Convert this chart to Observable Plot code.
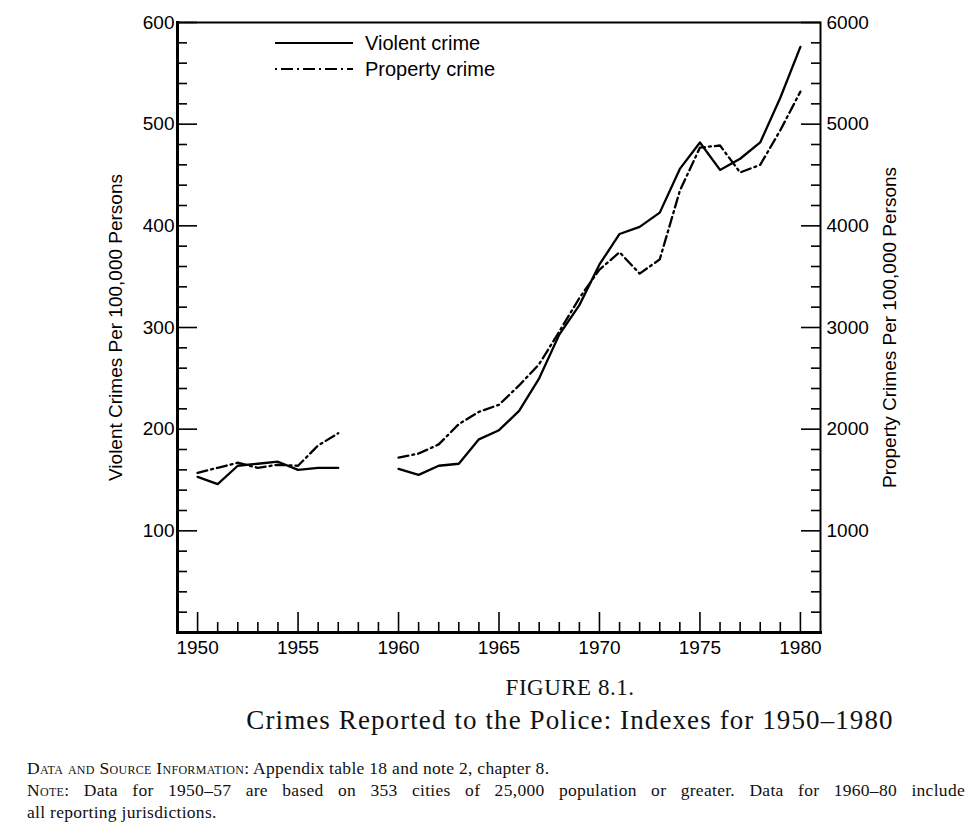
<!DOCTYPE html>
<html>
<head>
<meta charset="utf-8">
<script src="https://cdn.jsdelivr.net/npm/d3@7"></script>
<script src="https://cdn.jsdelivr.net/npm/@observablehq/plot@0.6"></script>
<style>
  body { margin: 0; background: #fff; }
  #wrap { position: relative; width: 974px; height: 660px; }
  #chart g[aria-label$="tick label"] { font-size: 19px !important; }
  #chart g[aria-label$="axis label"] { font-size: 19px !important; }
  #legend { position: absolute; left: 275px; top: 30px; font-family: "Liberation Sans", Arial, sans-serif; font-size: 20px; color: #000; }
  #legend .row { display: flex; align-items: center; height: 26px; }
  #legend svg { margin-right: 12px; }
  #cap { position: relative; width: 974px; height: 169px; font-family: "Liberation Serif", "DejaVu Serif", serif; color: #111; }
  #cap .fig { position: absolute; left: 166px; width: 808px; top: 14px; text-align: center; font-size: 23px; line-height: 28px; letter-spacing: 0.5px; }
  #cap .title { position: absolute; left: 166px; width: 808px; top: 46px; text-align: center; font-size: 27px; line-height: 28px; letter-spacing: 1.1px; }
  #cap .notes { position: absolute; left: 27px; width: 938px; top: 97px; font-size: 17.5px; line-height: 22px; letter-spacing: 0.3px; }
  #cap .just { text-align: justify; text-align-last: justify; }
  .sc { font-variant: small-caps; }
</style>
</head>
<body>
<div id="wrap">
  <div id="chart"></div>
  <div id="legend">
    <div class="row"><svg width="78" height="6"><line x1="0" y1="3" x2="78" y2="3" stroke="#000" stroke-width="2"/></svg><span>Violent crime</span></div>
    <div class="row"><svg width="78" height="6"><line x1="0" y1="3" x2="78" y2="3" stroke="#000" stroke-width="2" stroke-dasharray="2,4,12,4"/></svg><span>Property crime</span></div>
  </div>
</div>
<div id="cap">
  <div class="fig">FIGURE 8.1.</div>
  <div class="title">Crimes Reported to the Police: Indexes for 1950–1980</div>
  <div class="notes">
    <div><span class="sc">Data and Source Information:</span> Appendix table 18 and note 2, chapter 8.</div>
    <div class="just"><span class="sc">Note:</span> Data for 1950–57 are based on 353 cities of 25,000 population or greater. Data for 1960–80 include</div>
    <div>all reporting jurisdictions.</div>
  </div>
</div>
<script>
// ---- data ----
const years1 = [1950, 1951, 1952, 1953, 1954, 1955, 1956, 1957];
const violent1 = [153, 146, 164, 166, 168, 160, 162, 162];
const property1 = [1570, 1620, 1670, 1620, 1650, 1640, 1840, 1960];

const years2 = [1960, 1961, 1962, 1963, 1964, 1965, 1966, 1967, 1968, 1969, 1970,
                1971, 1972, 1973, 1974, 1975, 1976, 1977, 1978, 1979, 1980];
const violent2 = [161, 155, 164, 166, 190, 199, 218, 250, 293, 322, 362,
                  392, 399, 413, 456, 482, 455, 466, 482, 526, 576];
const property2 = [1720, 1760, 1850, 2050, 2170, 2240, 2430, 2640, 2960, 3290, 3570,
                   3740, 3530, 3670, 4345, 4770, 4790, 4525, 4600, 4940, 5320];

const leftTicks = [100, 200, 300, 400, 500, 600];
const rightTicks = [1000, 2000, 3000, 4000, 5000, 6000];
const yearTicks = [1950, 1955, 1960, 1965, 1970, 1975, 1980];

// ---- build rows ----
const rows = [];
years1.forEach((yr, i) => {
  rows.push({year: yr, series: "violent", seg: "violent-a", v: violent1[i]});
  rows.push({year: yr, series: "property", seg: "property-a", v: property1[i] / 10});
});
years2.forEach((yr, i) => {
  rows.push({year: yr, series: "violent", seg: "violent-b", v: violent2[i]});
  rows.push({year: yr, series: "property", seg: "property-b", v: property2[i] / 10});
});

const minorY = d3.range(20, 600, 20).filter(d => d % 100 !== 0);
const minorX = d3.range(1950, 1981).filter(d => d % 5 !== 0);

const chart = Plot.plot({
  width: 974,
  height: 660,
  marginLeft: 177,
  marginRight: 154,
  marginTop: 22,
  marginBottom: 28,
  x: {domain: [1949, 1981]},
  y: {domain: [0, 600]},
  style: {fontFamily: "'Liberation Sans', Arial, sans-serif", fontSize: "19px", color: "#000", background: "#fff"},
  marks: [
    Plot.frame({stroke: "#000", strokeWidth: 2}),
    Plot.frame({anchor: "left", stroke: "#000", strokeWidth: 3}),
    Plot.frame({anchor: "bottom", stroke: "#000", strokeWidth: 3}),
    // left axis
    Plot.axisY(leftTicks, {anchor: "left", tickSize: -20, tickPadding: 23, strokeWidth: 1.6,
      label: "Violent Crimes Per 100,000 Persons", labelAnchor: "center", labelArrow: "none", labelOffset: 69}),
    Plot.axisY(minorY, {anchor: "left", tickSize: -10, strokeWidth: 1.6, fill: "none", label: null}),
    // right axis (property values = 10 x left scale)
    Plot.axisY(leftTicks, {anchor: "right", tickSize: -20, tickPadding: 26, strokeWidth: 1.6,
      tickFormat: d => String(rightTicks[leftTicks.indexOf(d)]),
      label: "Property Crimes Per 100,000 Persons", labelAnchor: "center", labelArrow: "none", labelOffset: 75}),
    Plot.axisY(minorY, {anchor: "right", tickSize: -10, strokeWidth: 1.6, fill: "none", label: null}),
    // bottom axis
    Plot.axisX(yearTicks, {anchor: "bottom", tickSize: -20, tickPadding: 28, strokeWidth: 1.6,
      tickFormat: d => String(d), label: null}),
    Plot.axisX(minorX, {anchor: "bottom", tickSize: -10, strokeWidth: 1.6, fill: "none", label: null}),
    // lines
    Plot.line(rows.filter(d => d.series === "violent"), {x: "year", y: "v", z: "seg", stroke: "#000", strokeWidth: 2.3}),
    Plot.line(rows.filter(d => d.series === "property"), {x: "year", y: "v", z: "seg", stroke: "#000", strokeWidth: 2.3,
      strokeDasharray: "10,4,2,4"})
  ]
});
document.getElementById("chart").appendChild(chart);
</script>
</body>
</html>
